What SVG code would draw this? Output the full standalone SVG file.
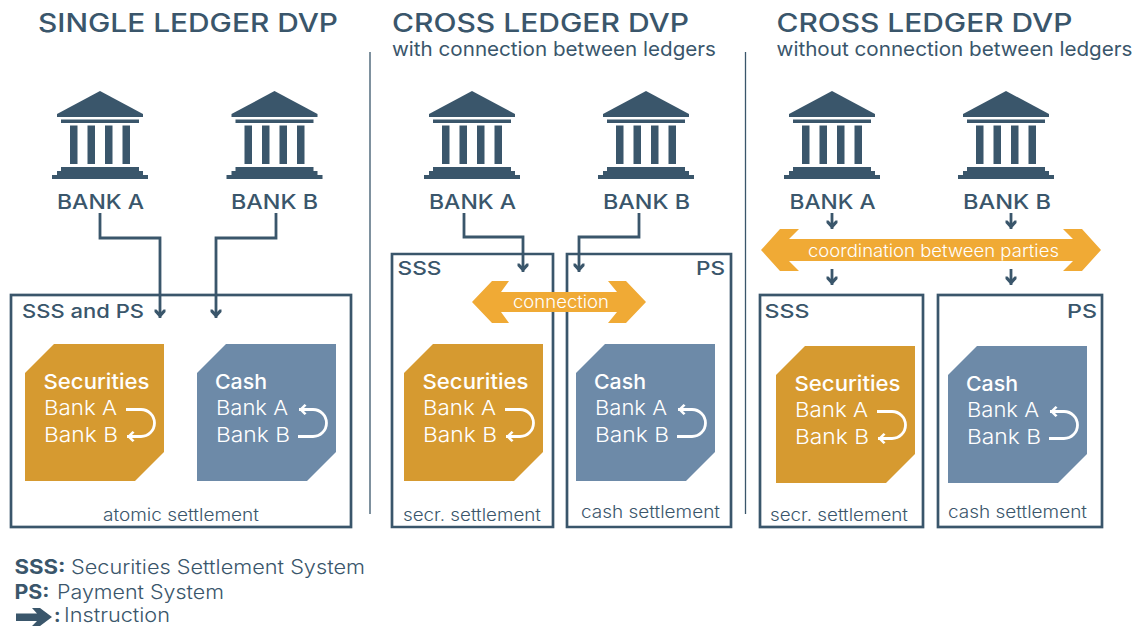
<svg xmlns="http://www.w3.org/2000/svg" width="1136" height="626" viewBox="0 0 1136 626">
<style>
text{font-family:"Inter","Noto Sans","Liberation Sans",sans-serif;fill:#3a566b}
.title{font-size:25.500px;font-weight:500}
.sub{font-size:19.500px;font-weight:400}
.bank{font-size:20px;font-weight:500}
.sys{font-size:19px;font-weight:500}
.foot{font-size:19.500px;font-weight:300}
.footb{font-size:19.500px;font-weight:700}
.set{font-size:17px;font-weight:300}
.cardh{font-size:20.500px;font-weight:500;fill:#fff}
.card{font-size:20.500px;font-weight:300;fill:#fff}
.lab{font-size:17.500px;font-weight:300;fill:#fff}
.box{fill:none;stroke:#3a566b;stroke-width:2.7}
.conn{fill:none;stroke:#3a566b;stroke-width:2.8}
.sep{stroke:#3a566b;stroke-width:1.3}
.u{fill:none;stroke:#fff;stroke-width:2.8}
.gold{fill:#d69a30}
.blue{fill:#6d8aa8}
.orange{fill:#f0aa35}
.ink{fill:#3a566b}
</style>
<defs>
<marker id="ah" markerUnits="userSpaceOnUse" markerWidth="14" markerHeight="14" refX="10" refY="7" orient="auto">
<path d="M4 1.500 L10 7 L4 12.500 L1.500 12.500 L1.500 10.500 L5 7 L1.500 3.500 L1.500 1.500Z" fill="#3a566b"/>
</marker>
<marker id="wh" markerUnits="userSpaceOnUse" markerWidth="14" markerHeight="14" refX="10" refY="7" orient="auto">
<path d="M4.500 1.500 L10 7 L4.500 12.500 L2.500 11 L6.500 7 L2.500 3Z" fill="#fff"/>
</marker>
<symbol id="bk" width="100" height="92" viewBox="0 0 100 92" overflow="visible">
<path class="ink" d="M50 1 L93 24 L93 27 L7 27 L7 24Z"/>
<rect class="ink" x="11" y="29.500" width="78" height="3.500"/>
<rect class="ink" x="20" y="35.500" width="7.500" height="38.500"/>
<rect class="ink" x="37.500" y="35.500" width="7.500" height="38.500"/>
<rect class="ink" x="55" y="35.500" width="7.500" height="38.500"/>
<rect class="ink" x="72.500" y="35.500" width="7.500" height="38.500"/>
<path class="ink" d="M11 77 L89 77 L89 81 L93 81 L93 85 L98 85 L98 89 L2 89 L2 85 L7 85 L7 81 L11 81Z"/>
</symbol>
</defs>

<g id="titles">
<text class="title" x="38" y="32" textLength="300" lengthAdjust="spacingAndGlyphs">SINGLE LEDGER DVP</text>
<text class="title" x="392" y="32" textLength="297" lengthAdjust="spacingAndGlyphs">CROSS LEDGER DVP</text>
<text class="sub" x="392" y="56" textLength="324" lengthAdjust="spacingAndGlyphs">with connection between ledgers</text>
<text class="title" x="776.500" y="32" textLength="296" lengthAdjust="spacingAndGlyphs">CROSS LEDGER DVP</text>
<text class="sub" x="776.500" y="56" textLength="356" lengthAdjust="spacingAndGlyphs">without connection between ledgers</text>
</g>
<g id="separators">
<line class="sep" x1="370" y1="52" x2="370" y2="514"/>
<line class="sep" x1="745.500" y1="52" x2="745.500" y2="514"/>
</g>

<g id="p1-bank-a"><use href="#bk" x="50" y="90"/><text class="bank" x="57" y="209" textLength="87" lengthAdjust="spacingAndGlyphs">BANK A</text></g>
<g id="p1-bank-b"><use href="#bk" x="224.500" y="90"/><text class="bank" x="231" y="209" textLength="87" lengthAdjust="spacingAndGlyphs">BANK B</text></g>
<g id="p2-bank-a"><use href="#bk" x="422" y="90"/><text class="bank" x="429" y="209" textLength="87" lengthAdjust="spacingAndGlyphs">BANK A</text></g>
<g id="p2-bank-b"><use href="#bk" x="596" y="90"/><text class="bank" x="603" y="209" textLength="87" lengthAdjust="spacingAndGlyphs">BANK B</text></g>
<g id="p3-bank-a"><use href="#bk" x="782" y="90"/><text class="bank" x="789.500" y="209" textLength="86" lengthAdjust="spacingAndGlyphs">BANK A</text></g>
<g id="p3-bank-b"><use href="#bk" x="956" y="90"/><text class="bank" x="963" y="209" textLength="88" lengthAdjust="spacingAndGlyphs">BANK B</text></g>

<g id="p1-system">
<rect class="box" x="11" y="295" width="340" height="232"/>
<text class="sys" x="22" y="318" textLength="122" lengthAdjust="spacingAndGlyphs">SSS and PS</text>
<text class="set" x="103" y="521" textLength="156" lengthAdjust="spacingAndGlyphs">atomic settlement</text>
</g>
<g id="p1-securities">
<path class="gold" d="M54 344H164V452L135 481H25V373Z"/>
<text class="cardh" x="43.500" y="389" textLength="106" lengthAdjust="spacingAndGlyphs">Securities</text>
<text class="card" x="44" y="415" textLength="73" lengthAdjust="spacingAndGlyphs">Bank A</text>
<text class="card" x="44" y="442" textLength="74" lengthAdjust="spacingAndGlyphs">Bank B</text>
<path class="u" marker-end="url(#wh)" d="M126 409.500H141A13.500 13.500 0 0 1 141 436.500H127"/>
</g>
<g id="p1-cash">
<path class="blue" d="M226 344H336V452L307 481H197V373Z"/>
<text class="cardh" x="215" y="389" textLength="52" lengthAdjust="spacingAndGlyphs">Cash</text>
<text class="card" x="216" y="415" textLength="72" lengthAdjust="spacingAndGlyphs">Bank A</text>
<text class="card" x="216" y="442" textLength="74" lengthAdjust="spacingAndGlyphs">Bank B</text>
<path class="u" marker-end="url(#wh)" d="M298 436.500H313A13.500 13.500 0 0 0 313 409.500H299"/>
</g>

<g id="p2-sss">
<path d="M392 254H553V527H392Z" class="box"/>
<text class="sys" x="397.500" y="275" textLength="44" lengthAdjust="spacingAndGlyphs">SSS</text>
<text class="set" x="403" y="521" textLength="138" lengthAdjust="spacingAndGlyphs">secr. settlement</text>
</g>
<g id="p2-ps">
<path d="M567 254H731V527H567Z" class="box"/>
<text class="sys" x="696" y="275" textLength="29" lengthAdjust="spacingAndGlyphs">PS</text>
<text class="set" x="581" y="518" textLength="139" lengthAdjust="spacingAndGlyphs">cash settlement</text>
</g>
<g id="p2-securities">
<path class="gold" d="M433 344H543V452L514 481H404V373Z"/>
<text class="cardh" x="422.500" y="389" textLength="106" lengthAdjust="spacingAndGlyphs">Securities</text>
<text class="card" x="423" y="415" textLength="73" lengthAdjust="spacingAndGlyphs">Bank A</text>
<text class="card" x="423" y="442" textLength="74" lengthAdjust="spacingAndGlyphs">Bank B</text>
<path class="u" marker-end="url(#wh)" d="M505 409.500H520A13.500 13.500 0 0 1 520 436.500H506"/>
</g>
<g id="p2-cash">
<path class="blue" d="M605 344H715V452L686 481H576V373Z"/>
<text class="cardh" x="594" y="389" textLength="52" lengthAdjust="spacingAndGlyphs">Cash</text>
<text class="card" x="595" y="415" textLength="72" lengthAdjust="spacingAndGlyphs">Bank A</text>
<text class="card" x="595" y="442" textLength="74" lengthAdjust="spacingAndGlyphs">Bank B</text>
<path class="u" marker-end="url(#wh)" d="M677 436.500H692A13.500 13.500 0 0 0 692 409.500H678"/>
</g>
<g id="p2-connection">
<path class="orange" d="M472 302L492 281H509L501 292H617L608 281H626L646 302L626 323H608L617 312H501L509 323H492Z"/>
<text class="lab" x="513" y="308" textLength="96" lengthAdjust="spacingAndGlyphs">connection</text>
</g>

<g id="p3-sss">
<rect class="box" x="760" y="295" width="163" height="232"/>
<text class="sys" x="764.500" y="318" textLength="45" lengthAdjust="spacingAndGlyphs">SSS</text>
<text class="set" x="770" y="521" textLength="138" lengthAdjust="spacingAndGlyphs">secr. settlement</text>
</g>
<g id="p3-ps">
<rect class="box" x="938" y="295" width="164" height="232"/>
<text class="sys" x="1067" y="318" textLength="30" lengthAdjust="spacingAndGlyphs">PS</text>
<text class="set" x="948" y="518" textLength="139" lengthAdjust="spacingAndGlyphs">cash settlement</text>
</g>
<g id="p3-securities">
<path class="gold" d="M805 346H915V454L886 483H776V375Z"/>
<text class="cardh" x="794.500" y="391" textLength="106" lengthAdjust="spacingAndGlyphs">Securities</text>
<text class="card" x="795" y="417" textLength="73" lengthAdjust="spacingAndGlyphs">Bank A</text>
<text class="card" x="795" y="444" textLength="74" lengthAdjust="spacingAndGlyphs">Bank B</text>
<path class="u" marker-end="url(#wh)" d="M877 411.500H892A13.500 13.500 0 0 1 892 438.500H878"/>
</g>
<g id="p3-cash">
<path class="blue" d="M977 346H1087V454L1058 483H948V375Z"/>
<text class="cardh" x="966" y="391" textLength="52" lengthAdjust="spacingAndGlyphs">Cash</text>
<text class="card" x="967" y="417" textLength="72" lengthAdjust="spacingAndGlyphs">Bank A</text>
<text class="card" x="967" y="444" textLength="74" lengthAdjust="spacingAndGlyphs">Bank B</text>
<path class="u" marker-end="url(#wh)" d="M1049 438.500H1064A13.500 13.500 0 0 0 1064 411.500H1050"/>
</g>
<g id="p3-coordination">
<path class="orange" d="M761 250L780 229H799L789 239H1073L1063 229H1082L1101 250L1082 271H1063L1073 261H789L799 271H780Z"/>
<text class="lab" x="808" y="257" textLength="251" lengthAdjust="spacingAndGlyphs">coordination between parties</text>
</g>

<g id="connectors">
<path class="conn" marker-end="url(#ah)" d="M100 213V238H160V318"/>
<path class="conn" marker-end="url(#ah)" d="M276 213V238H216V318"/>
<path class="conn" marker-end="url(#ah)" d="M464 213V237H523V272"/>
<path class="conn" marker-end="url(#ah)" d="M639 213V237H579V272"/>
<path class="conn" marker-end="url(#ah)" d="M832 213V229"/>
<path class="conn" marker-end="url(#ah)" d="M1011 213V229"/>
<path class="conn" marker-end="url(#ah)" d="M832 269V285"/>
<path class="conn" marker-end="url(#ah)" d="M1011 269V285"/>
</g>

<g id="legend">
<text class="footb" x="14.500" y="574" textLength="51" lengthAdjust="spacingAndGlyphs">SSS:</text>
<text class="foot" x="71" y="574" textLength="294" lengthAdjust="spacingAndGlyphs">Securities Settlement System</text>
<text class="footb" x="14.500" y="599" textLength="35" lengthAdjust="spacingAndGlyphs">PS:</text>
<text class="foot" x="57" y="599" textLength="167" lengthAdjust="spacingAndGlyphs">Payment System</text>
<path class="ink" d="M16 613.500H37L32 608H40L52 617L40 626H32L37 621H16Z"/>
<text class="footb" x="54" y="622">:</text>
<text class="foot" x="64" y="622" textLength="106" lengthAdjust="spacingAndGlyphs">Instruction</text>
</g>
</svg>
